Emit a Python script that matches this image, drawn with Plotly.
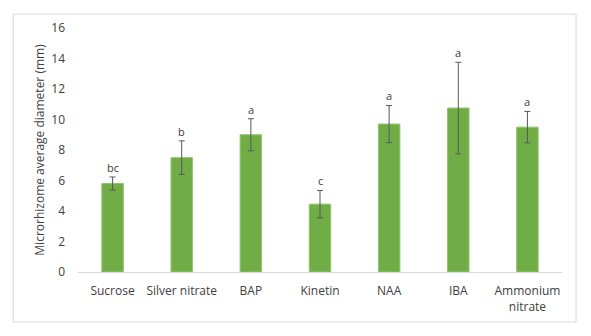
import plotly.graph_objects as go

categories = ["Sucrose", "Silver nitrate", "BAP", "Kinetin", "NAA", "IBA", "Ammonium<br>nitrate"]
means = [5.8, 7.5, 9.0, 4.45, 9.7, 10.75, 9.5]
errors = [0.43, 1.1, 1.05, 0.9, 1.22, 3.0, 1.03]
letters = ["bc", "b", "a", "c", "a", "a", "a"]
y_ticks = [0, 2, 4, 6, 8, 10, 12, 14, 16]

font_fam = "Open Sans, Liberation Sans, sans-serif"
gray = "#595959"

fig = go.Figure()
fig.add_trace(go.Bar(
    x=categories, y=means,
    marker=dict(color="#70ad47", line=dict(color="#8fc46a", width=1)),
    error_y=dict(type="data", array=errors, visible=True, color=gray, thickness=1, width=3),
    width=0.31,
))

for c, m, e, l in zip(categories, means, errors, letters):
    fig.add_annotation(x=c, y=m + e, text=l, showarrow=False, yanchor="bottom", yshift=0,
                       font=dict(family=font_fam, size=11, color="#404040"))

fig.add_shape(type="rect", xref="paper", yref="paper",
              x0=-0.134, x1=1.029, y0=-0.205, y1=1.057,
              line=dict(color="#d9d9d9", width=1), fillcolor="rgba(0,0,0,0)", layer="below")

fig.update_layout(
    width=591, height=336,
    margin=dict(l=78, r=29, t=28, b=64),
    plot_bgcolor="white", paper_bgcolor="white",
    showlegend=False,
    font=dict(family=font_fam, size=12, color=gray),
    xaxis=dict(showline=True, linecolor="#d9d9d9", linewidth=1, ticks="", showgrid=False,
               ticklabelstandoff=8,
               tickfont=dict(size=12, color="#404040")),
    yaxis=dict(range=[0, 16], tickvals=y_ticks, showgrid=False, zeroline=False, showline=False,
               ticks="", ticklabelstandoff=12, tickfont=dict(size=12, color="#404040"),
               title=dict(text="Microrhizome average diameter (mm)", font=dict(size=12, color="#404040"), standoff=4)),
)

fig.write_html("out.html")
